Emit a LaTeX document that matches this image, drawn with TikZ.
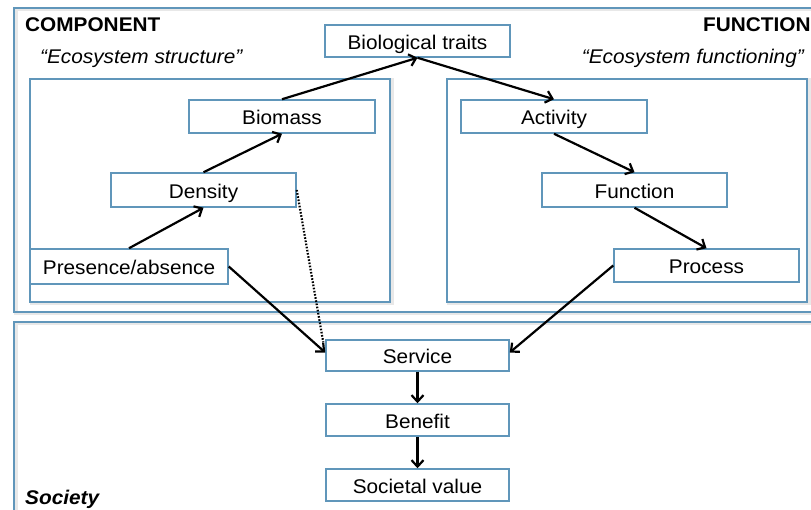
\documentclass[tikz,border=0pt]{standalone}
\usepackage{fontspec}
\setmainfont[FakeStretch=1.05]{Liberation Sans}
\usetikzlibrary{arrows.meta}
\definecolor{boxblue}{RGB}{96,150,186}
\newcommand{\fsz}{\fontsize{19.8}{23}\selectfont}
\tikzset{
  box/.style={draw=boxblue, line width=1.5pt, fill=white, inner sep=0pt,
    font=\fsz, text height=21pt, text depth=4pt},
  region/.style={draw=boxblue, line width=1.5pt},
  halo/.style={draw=black!9, line width=4pt},
  arr/.style={draw=black, line width=2.2pt, -{Straight Barb[length=6.5pt,width=12pt,line width=2.2pt]}},
  dots/.style={draw=black, line width=2.2pt, dash pattern=on 1.6pt off 1.6pt},
  lbl/.style={inner sep=0pt, font=\fsz}
}
\begin{document}
\begin{tikzpicture}[x=1pt,y=-1pt]
\clip (0,0) rectangle (811,510);
\fill[white] (0,0) rectangle (811,510);
% shadows
\draw[halo] (15.5,9.5) rectangle (840,313.5);
\draw[halo] (15.5,323.5) rectangle (840,540);
\draw[halo] (31.5,80.5) rectangle (391.5,303.5);
\draw[halo] (448.5,80.5) rectangle (808.5,303.5);
% regions
\draw[region] (14,8) rectangle (840,312);
\draw[region] (14,322) rectangle (840,540);
\draw[region, fill=white] (30,79) rectangle (390,302);
\draw[region, fill=white] (447,79) rectangle (807,302);
% labels
\node[lbl, anchor=base west, font=\fsz\bfseries] (comp) at (25,32) {COMPONENT};
\node[lbl, anchor=base west, font=\fsz\bfseries] (func) at (703,32) {FUNCTION};
\node[lbl, anchor=base west, font=\fsz\itshape] (estr) at (40,64) {“Ecosystem structure”};
\node[lbl, anchor=base east, font=\fsz\itshape] (efun) at (804,64) {“Ecosystem functioning”};
\node[lbl, anchor=base west, font=\fsz\bfseries\itshape] (soc) at (25,504) {Society};
% nodes
\node[box, minimum width=185pt, minimum height=32pt] (bio) at (417.5,41) {Biological traits};
\node[box, minimum width=186pt, minimum height=33pt] (biomass) at (282,116.5) {Biomass};
\node[box, minimum width=186pt, minimum height=33pt] (activity) at (554,116.5) {Activity};
\node[box, minimum width=185pt, minimum height=34pt] (density) at (203.5,190) {Density};
\node[box, minimum width=185pt, minimum height=34pt] (function) at (634.5,190) {Function};
\node[box, minimum width=198pt, minimum height=35pt] (presence) at (129,266.5) {Presence/absence};
\node[box, minimum width=185pt, minimum height=33pt] (process) at (706.5,265.5) {Process};
\node[box, minimum width=183pt, minimum height=31pt] (service) at (417.5,355.5) {Service};
\node[box, minimum width=183pt, minimum height=32pt] (benefit) at (417.5,420) {Benefit};
\node[box, minimum width=183pt, minimum height=32pt] (societal) at (417.5,485) {Societal value};
% connectors
\draw[arr] (presence.north) -- (density.south);
\draw[arr] (density.north) -- (biomass.south);
\draw[arr] (biomass.north) -- (bio.south);
\draw[arr] (bio.south) -- (activity.north);
\draw[arr] (activity.south) -- (function.north);
\draw[arr] (function.south) -- (process.north);
\draw[dots] (density.east) -- ([xshift=-2pt,yshift=-3pt]service.north west);
\draw[arr] (presence.east) -- ([yshift=3pt]service.west);
\draw[arr] (process.west) -- ([yshift=3pt]service.east);
\draw[arr] (service.south) -- (benefit.north);
\draw[arr] (benefit.south) -- (societal.north);
\end{tikzpicture}
\end{document}
